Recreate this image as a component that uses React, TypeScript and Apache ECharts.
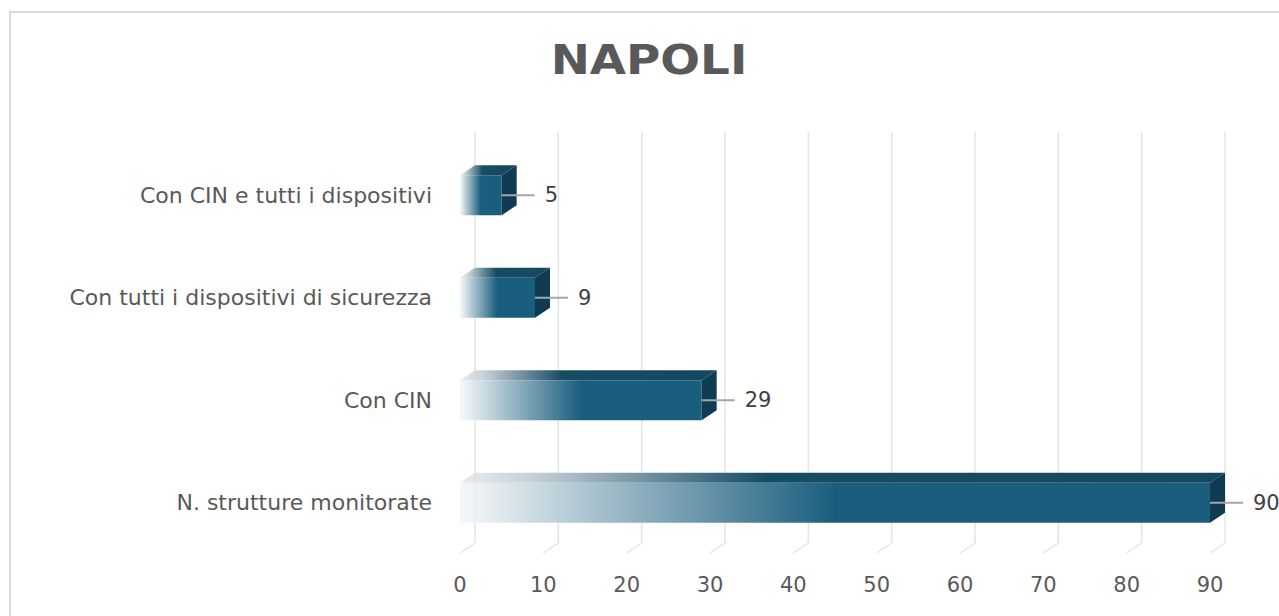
import React, { useEffect, useRef } from "react";
import * as echarts from "echarts";

const categories = [
  "N. strutture monitorate",
  "Con CIN",
  "Con tutti i dispositivi di sicurezza",
  "Con CIN e tutti i dispositivi",
];
const values = [90, 29, 9, 5];
const xTicks = [0, 10, 20, 30, 40, 50, 60, 70, 80, 90];
const titleText = "NAPOLI";

const FONT = "DejaVu Sans";
const DX = 15;
const DY = -10;

export default function App() {
  const ref = useRef<HTMLDivElement>(null);

  useEffect(() => {
    if (!ref.current) return;
    const chart = echarts.init(ref.current, null, { renderer: "svg" });

    const barRender = (params: any, api: any) => {
      const v = api.value(0);
      const ci = api.value(1);
      const start = api.coord([0, ci]);
      const end = api.coord([v, ci]);
      const band = api.size([0, 1])[1];
      const h = band * 0.39;
      const x0 = start[0];
      const x1 = end[0];
      const cy = end[1];
      const y0 = cy - h / 2;
      const y1 = cy + h / 2;
      return {
        type: "group",
        children: [
          {
            type: "polygon",
            shape: { points: [[x0, y0], [x1, y0], [x1 + DX, y0 + DY], [x0 + DX, y0 + DY]] },
            style: {
              fill: new echarts.graphic.LinearGradient(0, 0, 1, 0, [
                { offset: 0, color: "rgba(215,222,226,0.6)" },
                { offset: 0.12, color: "#b9c6cd" },
                { offset: 0.4, color: "#174c65" },
                { offset: 1, color: "#154760" },
              ]),
            },
          },
          {
            type: "polygon",
            shape: { points: [[x0, y0], [x1, y0], [x1, y1], [x0, y1]] },
            style: {
              fill: new echarts.graphic.LinearGradient(0, 0, 1, 0, [
                { offset: 0, color: "rgba(238,243,246,0.7)" },
                { offset: 0.03, color: "#eaf0f3" },
                { offset: 0.5, color: "#1a5e7e" },
                { offset: 1, color: "#1a5e7e" },
              ]),
            },
          },
          {
            type: "polygon",
            shape: { points: [[x1, y0], [x1 + DX, y0 + DY], [x1 + DX, y1 + DY], [x1, y1]] },
            style: { fill: "#0f3c53" },
          },
          {
            type: "line",
            shape: { x1: x1, y1: cy, x2: x1 + 33, y2: cy },
            style: { stroke: "#a6a6a6", lineWidth: 2 },
          },
          {
            type: "text",
            x: x1 + 43,
            y: cy,
            style: {
              text: String(v),
              fill: "#404040",
              fontSize: 21,
              fontFamily: FONT,
              textAlign: "left",
              textVerticalAlign: "middle",
              align: "left",
              verticalAlign: "middle",
            },
          },
        ],
      };
    };

    const gridRender = (params: any, api: any) => {
      const x = api.coord([api.value(0), 0])[0];
      const cs = params.coordSys;
      const top = cs.y;
      const bottom = cs.y + cs.height;
      return {
        type: "group",
        children: [
          {
            type: "line",
            shape: { x1: x + DX, y1: top - 12, x2: x + DX, y2: bottom - 11 },
            style: { stroke: "#e4e4e4", lineWidth: 1.5 },
          },
          {
            type: "line",
            shape: { x1: x + DX, y1: bottom - 11, x2: x, y2: bottom - 1 },
            style: { stroke: "#e4e4e4", lineWidth: 1.5 },
          },
        ],
      };
    };

    chart.setOption({
      animation: false,
      backgroundColor: "#ffffff",
      graphic: [
        {
          type: "rect",
          silent: true,
          shape: { x: 10, y: 12, width: 1320, height: 700 },
          style: { fill: "none", stroke: "#d9d9d9", lineWidth: 2 },
        },
        {
          type: "text",
          x: 649,
          y: 60,
          scaleX: 1.17,
          style: {
            text: titleText,
            fill: "#595959",
            fontSize: 40,
            fontWeight: "bold",
            fontFamily: FONT,
            textAlign: "center",
            textVerticalAlign: "middle",
            align: "center",
            verticalAlign: "middle",
          },
        },
      ],
      grid: { left: 460, right: 69, top: 144, bottom: 62, containLabel: false },
      xAxis: {
        type: "value",
        min: 0,
        max: 90,
        interval: 10,
        axisLine: { show: false },
        axisTick: { show: false },
        splitLine: { show: false },
        axisLabel: { color: "#595959", fontSize: 21, fontFamily: FONT, margin: 20 },
      },
      yAxis: {
        type: "category",
        data: categories,
        axisLine: { show: false },
        axisTick: { show: false },
        splitLine: { show: false },
        axisLabel: { color: "#595959", fontSize: 22, fontFamily: FONT, margin: 28 },
      },
      series: [
        {
          type: "custom",
          silent: true,
          z: 1,
          renderItem: gridRender,
          data: xTicks.map((t) => [t, 0]),
          encode: { x: 0, y: 1 },
        },
        {
          type: "custom",
          z: 5,
          renderItem: barRender,
          data: values.map((v, i) => [v, i]),
          encode: { x: 0, y: 1 },
        },
      ],
    });

    return () => chart.dispose();
  }, []);

  return (
    <div
      ref={ref}
      style={{ position: "absolute", left: 0, top: 0, width: 1279, height: 616, background: "#fff" }}
    />
  );
}
